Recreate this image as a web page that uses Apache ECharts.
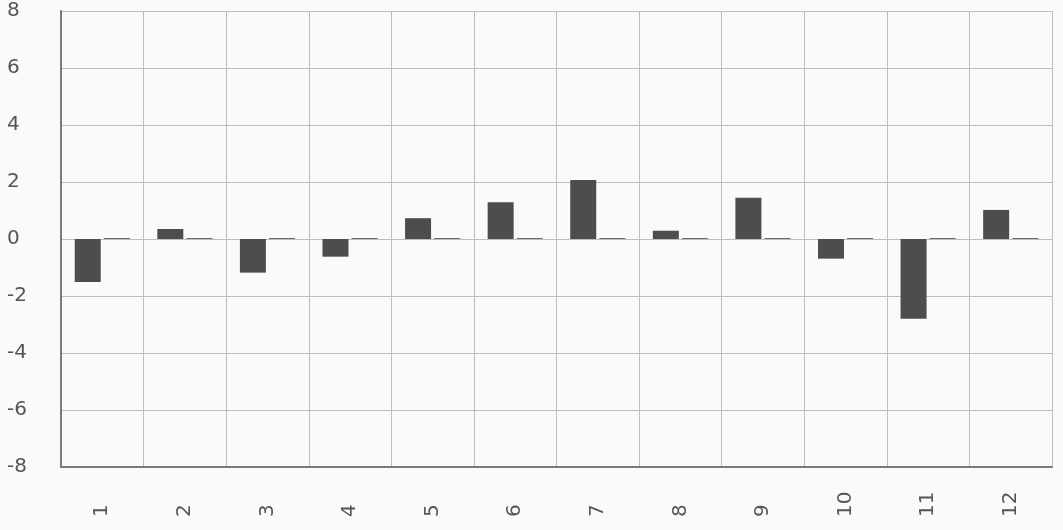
<!DOCTYPE html>
<html>
<head>
<meta charset="utf-8">
<script src="https://cdn.jsdelivr.net/npm/echarts@6/dist/echarts.min.js"></script>
<style>
  html, body { margin: 0; padding: 0; background: #fafafa; }
  #chart { width: 1063px; height: 530px; }
</style>
</head>
<body>
<div id="chart"></div>
<script>
var categories = ['1', '2', '3', '4', '5', '6', '7', '8', '9', '10', '11', '12']
var valuesA = [-1.51, 0.35, -1.18, -0.62, 0.73, 1.29, 2.07, 0.29, 1.45, -0.69, -2.8, 1.02]
var valuesB = [0, 0, 0, 0, 0, 0, 0, 0, 0, 0, 0, 0]
var yTicks = { min: -8, max: 8, interval: 2 }

var chart = echarts.init(document.getElementById('chart'))
chart.setOption({
  backgroundColor: '#fafafa',
  animation: false,
  grid: {
    left: 61,
    right: 11,
    top: 11,
    bottom: 63
  },
  xAxis: {
    type: 'category',
    data: categories,
    axisLine: { onZero: false, lineStyle: { color: '#7a7a7a', width: 2 } },
    axisTick: { show: false },
    splitLine: { show: true, lineStyle: { color: '#bdbdbd', width: 1 } },
    axisLabel: {
      rotate: 90,
      align: 'left',
      verticalAlign: 'middle',
      margin: 50,
      color: '#555',
      fontSize: 20,
      fontFamily: 'DejaVu Sans'
    }
  },
  yAxis: {
    type: 'value',
    min: yTicks.min,
    max: yTicks.max,
    interval: yTicks.interval,
    axisLine: { show: true, lineStyle: { color: '#7a7a7a', width: 2 } },
    axisTick: { show: false },
    splitLine: { lineStyle: { color: '#bdbdbd', width: 1 } },
    axisLabel: {
      align: 'left',
      margin: 54,
      color: '#555',
      fontSize: 20,
      fontFamily: 'DejaVu Sans'
    }
  },
  series: [
    {
      name: 'A',
      type: 'bar',
      data: valuesA,
      barWidth: 26,
      barGap: '12%',
      itemStyle: { color: '#4d4d4d' }
    },
    {
      name: 'B',
      type: 'bar',
      data: valuesB,
      barWidth: 26,
      barMinHeight: 1,
      itemStyle: { color: '#6a6a6a' }
    }
  ]
})
</script>
</body>
</html>
